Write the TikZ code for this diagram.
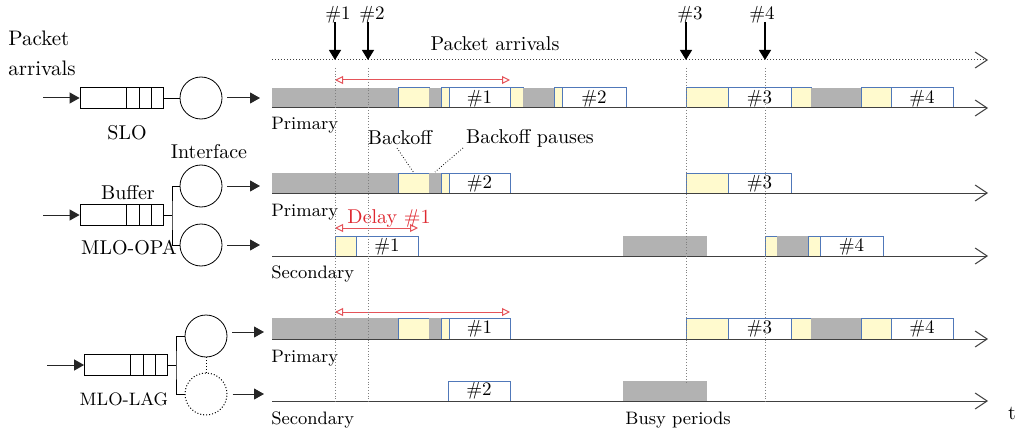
\documentclass[tikz,border=0pt]{standalone}
\usepackage{amssymb}
\usepackage{xcolor}
\usetikzlibrary{arrows}
\usetikzlibrary{arrows.meta}
\usetikzlibrary{shapes}

\definecolor{busygray}{RGB}{178,178,178}
\definecolor{bofill}{RGB}{255,250,206}
\definecolor{frameblue}{RGB}{80,120,185}
\definecolor{delayred}{RGB}{222,40,48}

\tikzset{
    busy/.style={fill=busygray, draw=none},
    boff/.style={fill=bofill, draw=frameblue, line width=0.5pt},
    pkt/.style={fill=white, draw=frameblue, line width=0.5pt},
    taxis/.style={-{Straight Barb[length=6pt,width=8pt]}, draw=black!75, line width=0.5pt},
    arrival/.style={-{Triangle[length=5pt,width=6pt]}, line width=0.6pt},
    inflow/.style={-{Triangle[length=5pt,width=5.5pt]}, line width=0.5pt, draw=black!85},
    delay/.style={{Triangle[open,length=4pt,width=4pt]}-{Triangle[open,length=4pt,width=4pt]}, draw=delayred!80, line width=0.5pt},
    instant/.style={draw=gray, densely dotted, line width=0.4pt},
    bufbox/.style={draw, rectangle, minimum width=41.5pt, minimum height=10.5pt, inner sep=0pt},
    iface/.style={draw, circle, minimum size=21pt, inner sep=0pt},
    lbl/.style={font=\small, inner sep=0pt},
    pnum/.style={font=\fontsize{9.5}{11}\selectfont, inner sep=0pt}
}

\begin{document}
\begin{tikzpicture}[x=0.5pt, y=-0.5pt]
        \useasboundingbox (0, 0) rectangle (1017, 433);

        % SLO
        \node [align=left, inner sep=0pt, anchor=north west, font=\fontsize{10.5}{15}\selectfont] (pktin) at (8, 31) {Packet\\arrivals};
        \coordinate (islo) at (43, 98);
        \node [bufbox] (bslo) at (121.5, 98) {};
        \foreach \d in {126, 139, 151}
            \draw (\d, 88) -- (\d, 108);
        \node [iface] (cslo) at (201, 98) {};
        \coordinate (oslo) at (260, 98);
        \draw [inflow] (islo) -- (bslo.west);
        \draw (bslo.east) -- (cslo.west);
        \draw [inflow, shorten <=2.5pt] (cslo.east) -- (oslo);
        \node (slo) at (127, 133) {SLO};

        % MLO-OPA
        \coordinate (iopa) at (43, 215);
        \node [bufbox] (bopa) at (121.5, 215) {};
        \foreach \d in {126, 139, 151}
            \draw (\d, 205) -- (\d, 225);
        \node [iface] (copa1) at (201, 186) {};
        \node [iface] (copa2) at (201, 245) {};
        \coordinate (jopa) at (172, 215);
        \coordinate (oopa1) at (260, 186);
        \coordinate (oopa2) at (260, 245);
        \draw [inflow] (iopa) -- (bopa.west);
        \draw (bopa.east) -- (jopa);
        \draw (copa1.west) -| (jopa) |- (copa2.west);
        \draw [inflow, shorten <=2.5pt] (copa1.east) -- (oopa1);
        \draw [inflow, shorten <=2.5pt] (copa2.east) -- (oopa2);
        \node (ifc) at (209, 152) {Interface};
        \node (buf) at (128, 193) {Buffer};
        \node (opa) at (129, 248) {MLO-OPA};

        % MLO-LAG
        \coordinate (ilag) at (47, 365);
        \node [bufbox] (blag) at (126, 365) {};
        \foreach \d in {130, 143, 155}
            \draw (\d, 355) -- (\d, 375);
        \node [iface] (clag1) at (206, 336) {};
        \node [iface, densely dotted, line width=0.5pt] (clag2) at (206, 394) {};
        \coordinate (jlag) at (176, 365);
        \coordinate (olag1) at (264, 332);
        \coordinate (olag2) at (264, 394);
        \draw [inflow] (ilag) -- (blag.west);
        \draw (blag.east) -- (jlag);
        \draw (clag1.west) -| (jlag) |- (clag2.west);
        \draw [densely dotted, line width=0.5pt] (clag1.south) -- (clag2.north);
        \draw [inflow, shorten <=2.5pt] ([yshift=2pt]clag1.east) -- (olag1);
        \draw [inflow, shorten <=2.5pt] (clag2.east) -- (olag2);
        \node [font=\small] (lag) at (124, 399) {MLO-LAG};

        % packet arrivals
        \draw [taxis, densely dotted] (272, 60) -- (988, 60);
        \node (arr) at (495, 44) {Packet arrivals};
        \node [pnum] (a1) at (338, 15) {\#1};
        \node [pnum] (a2) at (372, 15) {\#2};
        \node [pnum] (a3) at (690, 15) {\#3};
        \node [pnum] (a4) at (762, 15) {\#4};
        \draw [arrival] (335, 22) -- (335, 60);
        \draw [arrival] (368, 22) -- (368, 60);
        \draw [arrival] (686, 22) -- (686, 60);
        \draw [arrival] (765, 22) -- (765, 60);

        % SLO primary
        \fill [busy] (272, 88) rectangle (398, 108);
        \draw [boff] (398, 88) rectangle (429, 108);
        \fill [busy] (429, 88) rectangle (441, 108);
        \draw [boff] (441, 88) rectangle (449, 108);
        \draw [pkt] (449, 88) rectangle (510, 108);
        \draw [boff] (510, 88) rectangle (523, 108);
        \fill [busy] (523, 88) rectangle (554, 108);
        \draw [boff] (554, 88) rectangle (562, 108);
        \draw [pkt] (562, 88) rectangle (626, 108);
        \draw [boff] (686, 88) rectangle (728, 108);
        \draw [pkt] (728, 88) rectangle (791, 108);
        \draw [boff] (791, 88) rectangle (811, 108);
        \fill [busy] (811, 88) rectangle (861, 108);
        \draw [boff] (861, 88) rectangle (891, 108);
        \draw [pkt] (891, 88) rectangle (953, 108);
        \node [pnum] (r1p1) at (479.5, 99) {\#1};
        \node [pnum] (r1p2) at (594, 99) {\#2};
        \node [pnum] (r1p3) at (759.5, 99) {\#3};
        \node [pnum] (r1p4) at (922, 99) {\#4};
        \draw [taxis] (272, 108) -- (988, 108);
        \draw [delay] (335, 80) -- (510, 80);
        \node [lbl, anchor=west] (r1name) at (271, 125) {Primary};

        % backoff labels
        \node (bo) at (400, 138) {Backoff};
        \node (bop) at (530, 138) {Backoff pauses};
        \draw [densely dotted, line width=0.4pt] (397, 148) -- (414, 173);
        \draw [densely dotted, line width=0.4pt] (463, 148) -- (435, 172);

        % MLO-OPA primary
        \fill [busy] (272, 173) rectangle (398, 193);
        \draw [boff] (398, 173) rectangle (429, 193);
        \fill [busy] (429, 173) rectangle (441, 193);
        \draw [boff] (441, 173) rectangle (449, 193);
        \draw [pkt] (449, 173) rectangle (510, 193);
        \draw [boff] (686, 173) rectangle (728, 193);
        \draw [pkt] (728, 173) rectangle (791, 193);
        \node [pnum] (r2p2) at (479.5, 184) {\#2};
        \node [pnum] (r2p3) at (759.5, 184) {\#3};
        \draw [taxis] (272, 193) -- (988, 193);
        \node [lbl, anchor=west] (r2name) at (271, 212) {Primary};

        % MLO-OPA secondary
        \draw [boff] (335, 236) rectangle (356, 256);
        \draw [pkt] (356, 236) rectangle (418, 256);
        \fill [busy] (623, 236) rectangle (707, 256);
        \draw [boff] (765, 236) rectangle (777, 256);
        \fill [busy] (777, 236) rectangle (808, 256);
        \draw [boff] (808, 236) rectangle (820, 256);
        \draw [pkt] (820, 236) rectangle (883, 256);
        \node [pnum] (r3p1) at (387, 247) {\#1};
        \node [pnum] (r3p4) at (851.5, 247) {\#4};
        \draw [taxis] (272, 256) -- (988, 256);
        \draw [delay] (335, 228) -- (418, 228);
        \node [text=delayred, inner sep=0pt] (dly) at (389, 219) {Delay \#1};
        \node [lbl, anchor=west] (r3name) at (271, 274) {Secondary};

        % MLO-LAG primary
        \fill [busy] (272, 318) rectangle (398, 339);
        \draw [boff] (398, 318) rectangle (429, 339);
        \fill [busy] (429, 318) rectangle (441, 339);
        \draw [boff] (441, 318) rectangle (449, 339);
        \draw [pkt] (449, 318) rectangle (510, 339);
        \draw [boff] (686, 318) rectangle (728, 339);
        \draw [pkt] (728, 318) rectangle (791, 339);
        \draw [boff] (791, 318) rectangle (811, 339);
        \fill [busy] (811, 318) rectangle (861, 339);
        \draw [boff] (861, 318) rectangle (891, 339);
        \draw [pkt] (891, 318) rectangle (953, 339);
        \node [pnum] (r4p1) at (479.5, 329) {\#1};
        \node [pnum] (r4p3) at (759.5, 329) {\#3};
        \node [pnum] (r4p4) at (922, 329) {\#4};
        \draw [taxis] (272, 339) -- (988, 339);
        \draw [delay] (335, 312) -- (510, 312);
        \node [lbl, anchor=west] (r4name) at (271, 358) {Primary};

        % MLO-LAG secondary
        \draw [pkt] (448, 381) rectangle (510, 401);
        \fill [busy] (623, 381) rectangle (707, 401);
        \node [pnum] (r5p2) at (479, 391) {\#2};
        \draw [taxis] (272, 401) -- (988, 401);
        \node [lbl, anchor=west] (r5name) at (271, 420) {Secondary};
        \node [lbl, anchor=west] (busylbl) at (625, 420) {Busy periods};
        \node (tlbl) at (1012, 413) {t};

        % arrival instants
        \draw [instant] (335, 68) -- (335, 402);
        \draw [instant] (368, 68) -- (368, 402);
        \draw [instant] (686, 68) -- (686, 382);
        \draw [instant] (765, 68) -- (765, 402);
\end{tikzpicture}
\end{document}
